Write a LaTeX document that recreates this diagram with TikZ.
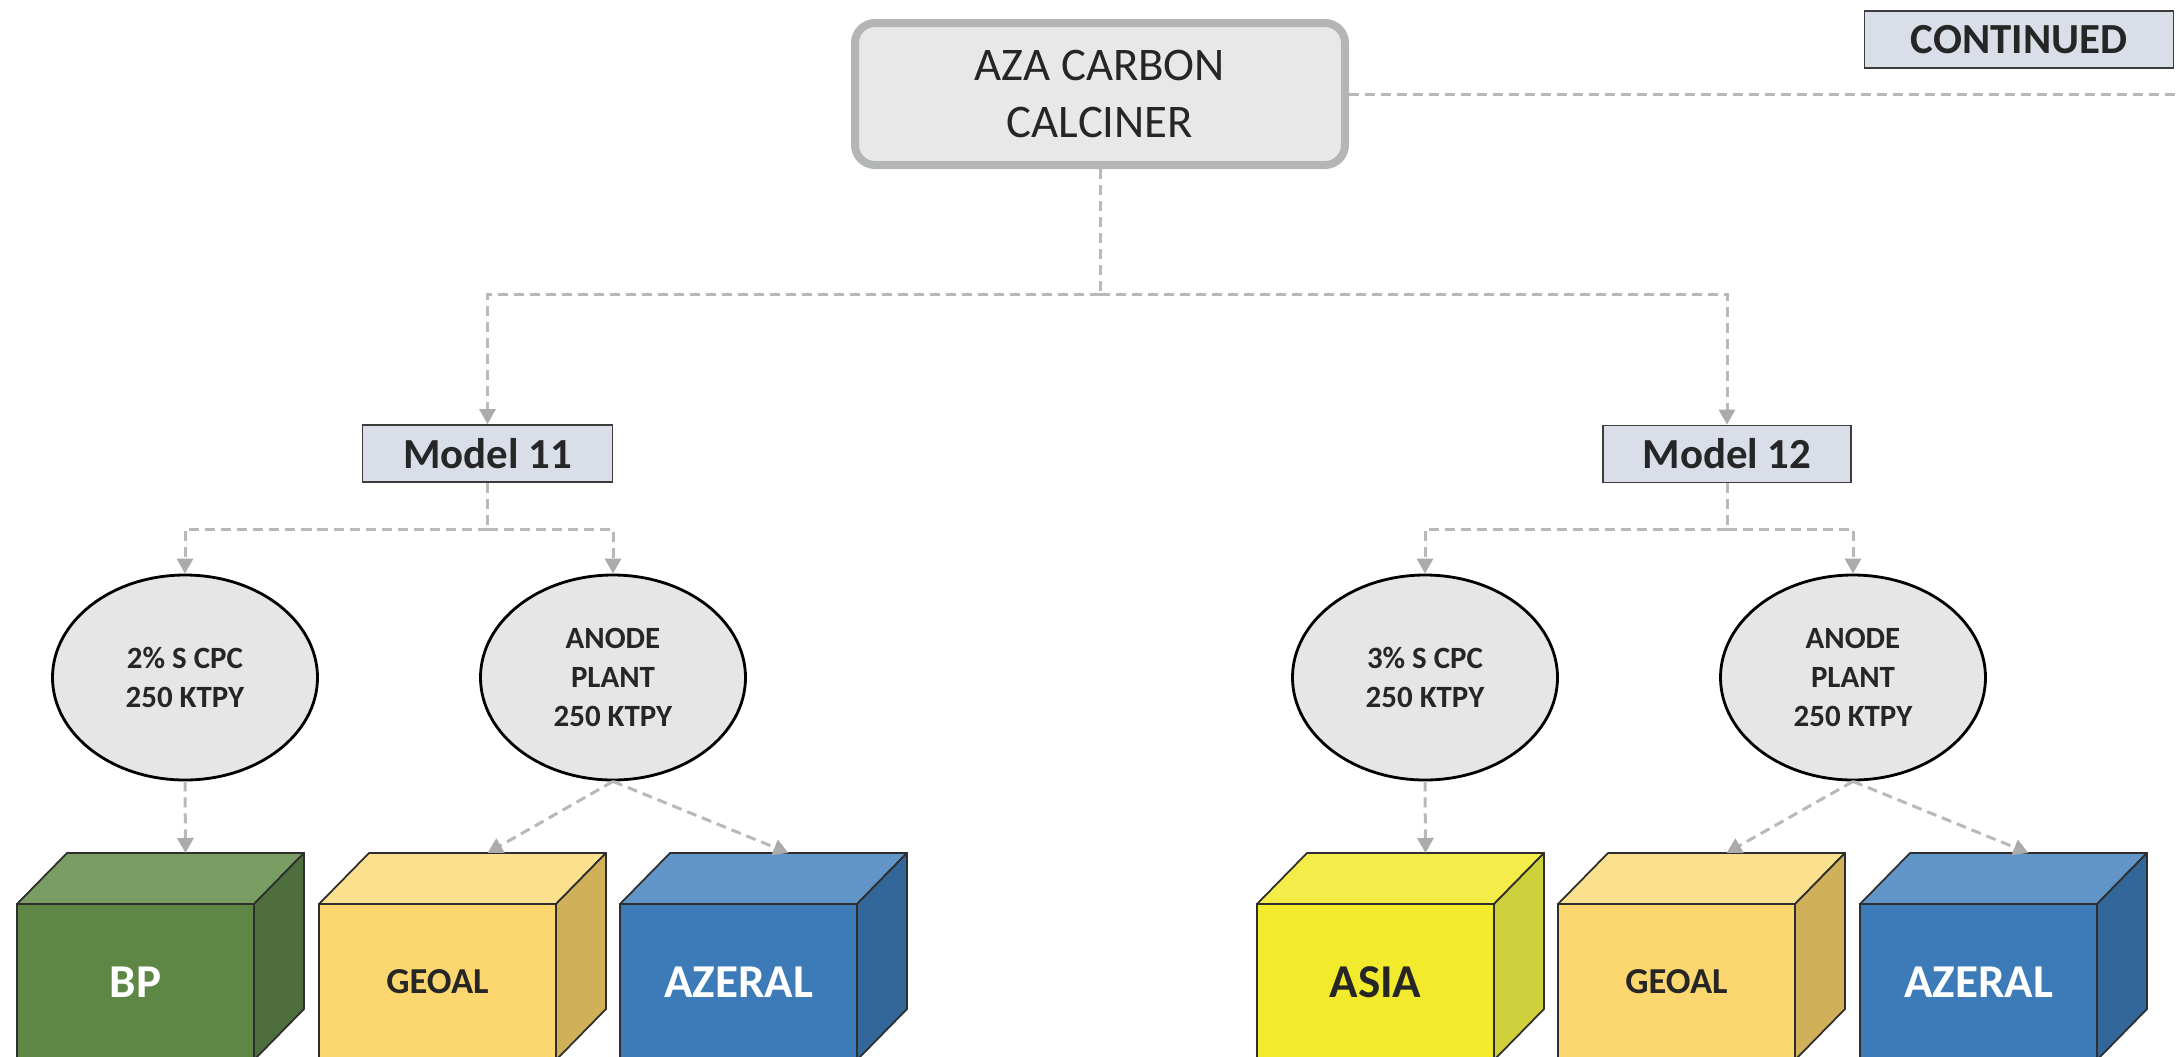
\documentclass[tikz,border=0pt]{standalone}
\usepackage{fontspec}
\setmainfont{Carlito}
\usetikzlibrary{arrows.meta,shapes.geometric,calc}

\definecolor{linkgray}{HTML}{B9B9B9}
\definecolor{tipgray}{HTML}{ABABAB}
\definecolor{ink}{HTML}{262626}
\definecolor{edgedark}{HTML}{2E2E2E}
\definecolor{labelfill}{HTML}{D9DEE8}
\definecolor{labeledge}{HTML}{3C3C3C}
\definecolor{rootfill}{HTML}{E8E8E8}
\definecolor{rootedge}{HTML}{B3B5B7}
\definecolor{plantfill}{HTML}{E6E6E6}
% cube faces: front, top, side
\definecolor{grnF}{HTML}{5E8645}\definecolor{grnT}{HTML}{7A9D64}\definecolor{grnS}{HTML}{4F6E3D}
\definecolor{ylwF}{HTML}{FCD66E}\definecolor{ylwT}{HTML}{FBE08D}\definecolor{ylwS}{HTML}{D1B05A}
\definecolor{bluF}{HTML}{3C7AB8}\definecolor{bluT}{HTML}{6195C7}\definecolor{bluS}{HTML}{336699}
\definecolor{lemF}{HTML}{F2EA2C}\definecolor{lemT}{HTML}{F4EC48}\definecolor{lemS}{HTML}{CED03C}

\tikzset{
  link/.style={draw=linkgray, line width=0.03cm, dash pattern=on 0.1cm off 0.06cm},
  linkarrow/.style={link, -{Triangle[length=0.15cm, width=0.16cm, color=tipgray]}},
  rootbox/.style={rectangle, rounded corners=0.2cm, draw=rootedge, fill=rootfill,
    line width=0.08cm, minimum width=4.90cm, minimum height=1.42cm, align=center,
    text=ink, font=\fontsize{13.3}{16.1}\selectfont},
  labelbox/.style={rectangle, draw=labeledge, fill=labelfill, line width=0.5pt,
    minimum height=0.57cm, inner sep=0pt, text=ink,
    font=\bfseries\fontsize{12.2}{14}\selectfont},
  plant/.style={ellipse, draw=black, fill=plantfill, line width=0.8pt,
    minimum width=2.65cm, minimum height=2.05cm, inner sep=0pt, align=center,
    text=ink, font=\bfseries\fontsize{8.8}{11.1}\selectfont},
  cubeface/.style={rectangle, draw=edgedark, line width=0.5pt, minimum width=2.37cm,
    minimum height=1.56cm, inner sep=0pt, outer sep=0pt},
  cubeedge/.style={draw=edgedark, line width=0.5pt, line join=round},
  bigname/.style={font=\bfseries\fontsize{13.4}{16}\selectfont},
  smallname/.style={font=\bfseries\fontsize{10.4}{12}\selectfont},
}

% box drawn in perspective: name, left x, front, top, side, text style, text
\newcommand\cubebox[7]{%
  \node[cubeface, fill=#3, #6] (#1) at (#2+1.185,-9.82) {#7};
  \filldraw[cubeedge, fill=#4] (#1.north west) -- ++(0.50,0.51) -- ++(2.37,0)
    -- (#1.north east) -- cycle;
  \filldraw[cubeedge, fill=#5] (#1.north east) -- ++(0.50,0.51) -- ++(0,-1.56)
    -- (#1.south east) -- cycle;
  \coordinate (#1-top) at ($(#1.north)+(0.50,0.51)$);
}

\begin{document}
\begin{tikzpicture}
  \fill[white] (0,0) rectangle (21.76,-10.56);
  \useasboundingbox (0,0) rectangle (21.76,-10.56);

  % top level
  \node[rootbox] (root) at (11.00,-0.94) {AZA CARBON\\CALCINER};
  \node[labelbox, minimum width=3.09cm] (cont) at (20.19,-0.395) {CONTINUED};
  \coordinate (edge) at (21.76,-0.94);

  % models
  \node[labelbox, minimum width=2.50cm] (m11) at (4.875,-4.535) {Model 11};
  \node[labelbox, minimum width=2.48cm] (m12) at (17.27,-4.54) {Model 12};

  % plants
  \node[plant] (e1) at (1.85,-6.775) {2\% S CPC\\250 KTPY};
  \node[plant] (e2) at (6.13,-6.775) {ANODE\\PLANT\\250 KTPY};
  \node[plant] (e3) at (14.25,-6.775) {3\% S CPC\\250 KTPY};
  \node[plant] (e4) at (18.53,-6.775) {ANODE\\PLANT\\250 KTPY};

  % customers
  \cubebox{bp}{0.17}{grnF}{grnT}{grnS}{text=white, bigname}{BP}
  \cubebox{geoalA}{3.19}{ylwF}{ylwT}{ylwS}{text=ink, smallname}{GEOAL}
  \cubebox{azeralA}{6.20}{bluF}{bluT}{bluS}{text=white, bigname}{AZERAL}
  \cubebox{asia}{12.57}{lemF}{lemT}{lemS}{text=ink, bigname}{ASIA}
  \cubebox{geoalB}{15.58}{ylwF}{ylwT}{ylwS}{text=ink, smallname}{GEOAL}
  \cubebox{azeralB}{18.60}{bluF}{bluT}{bluS}{text=white, bigname}{AZERAL}

  % junctions
  \coordinate (j0) at (11.00,-2.94);
  \coordinate (j1) at (4.875,-5.29);
  \coordinate (j2) at (17.27,-5.29);

  % connectors
  \draw[link] (root.east) -- (edge);
  \draw[link] (root.south) -- (j0);
  \draw[linkarrow] (j0) -| (m11.north);
  \draw[linkarrow] (j0) -| (m12.north);

  \draw[link] (m11.south) -- (j1);
  \draw[linkarrow] (j1) -| (e1.north);
  \draw[linkarrow] (j1) -| (e2.north);
  \draw[link] (m12.south) -- (j2);
  \draw[linkarrow] (j2) -| (e3.north);
  \draw[linkarrow] (j2) -| (e4.north);

  \draw[linkarrow] (e1.south) -- (bp-top);
  \draw[linkarrow] (e2.south) -- (geoalA-top);
  \draw[linkarrow] (e2.south) -- (azeralA-top);
  \draw[linkarrow] (e3.south) -- (asia-top);
  \draw[linkarrow] (e4.south) -- (geoalB-top);
  \draw[linkarrow] (e4.south) -- (azeralB-top);
\end{tikzpicture}
\end{document}
